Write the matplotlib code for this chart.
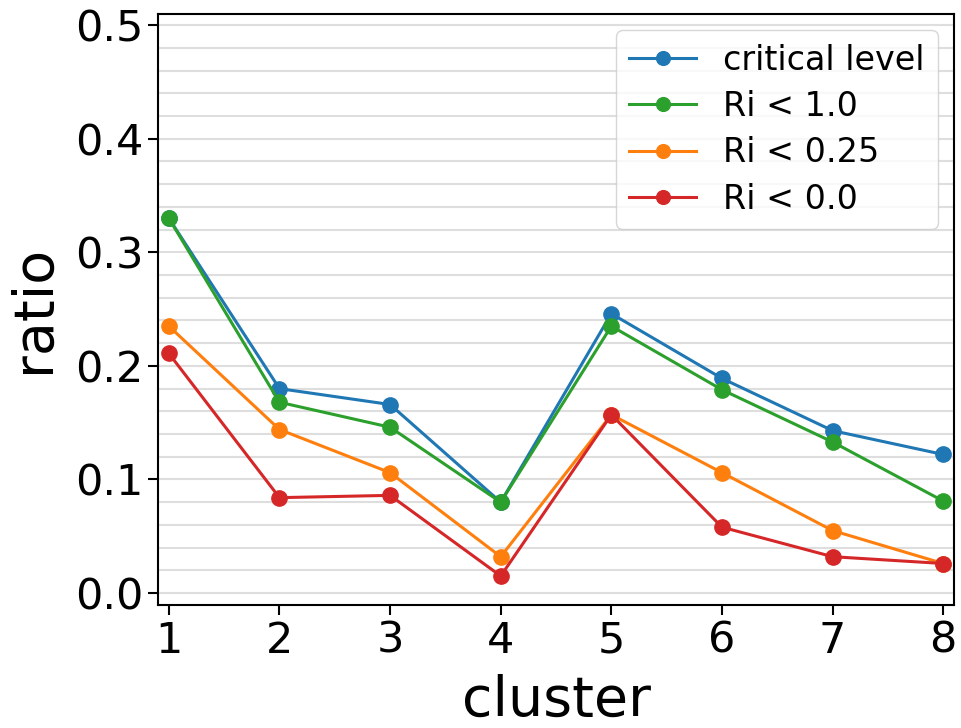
import matplotlib
matplotlib.use("Agg")
import matplotlib.pyplot as plt
import numpy as np

clusters = [1, 2, 3, 4, 5, 6, 7, 8]
critical_level = [0.330, 0.180, 0.166, 0.080, 0.246, 0.189, 0.143, 0.122]
ri_lt_1 = [0.330, 0.168, 0.146, 0.080, 0.235, 0.179, 0.133, 0.081]
ri_lt_025 = [0.235, 0.144, 0.106, 0.032, 0.157, 0.106, 0.055, 0.026]
ri_lt_0 = [0.211, 0.084, 0.086, 0.015, 0.157, 0.058, 0.032, 0.026]

fig = plt.figure(figsize=(9.62, 7.28), dpi=100)
ax = fig.add_axes([0.164, 0.169, 0.828, 0.812])

# grid behind the lines
for y in np.arange(0, 0.51, 0.02):
    ax.axhline(y, color="#dedede", linewidth=1.5, zorder=0)

ax.plot(clusters, critical_level, "o-", color="tab:blue", lw=2.2, ms=11, label="critical level")
ax.plot(clusters, ri_lt_1, "o-", color="tab:green", lw=2.2, ms=11, label="Ri < 1.0")
ax.plot(clusters, ri_lt_025, "o-", color="tab:orange", lw=2.2, ms=11, label="Ri < 0.25")
ax.plot(clusters, ri_lt_0, "o-", color="tab:red", lw=2.2, ms=11, label="Ri < 0.0")

ax.set_xlim(0.9, 8.1)
ax.set_ylim(-0.0105, 0.51)
ax.set_xticks(clusters)
ax.set_yticks([0.0, 0.1, 0.2, 0.3, 0.4, 0.5])
ax.tick_params(labelsize=31, length=7, width=1.5)
for s in ax.spines.values():
    s.set_linewidth(1.5)

ax.set_xlabel("cluster", fontsize=40, labelpad=9)
ax.set_ylabel("ratio", fontsize=40, labelpad=10)
ax.legend(fontsize=24, loc="upper right", handlelength=2.0, borderpad=0.4,
          labelspacing=0.4, markerscale=0.9)

fig.savefig("out.png", dpi=100)
